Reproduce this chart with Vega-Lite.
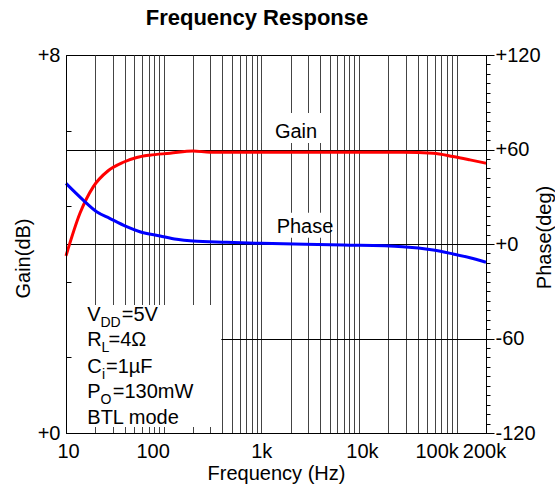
{
  "$schema": "https://vega.github.io/schema/vega-lite/v6.json",
  "width": 420,
  "height": 378,
  "autosize": "none",
  "padding": {"left": 66, "top": 55, "right": 69, "bottom": 52},
  "background": "white",
  "title": {"text": "Frequency Response", "font": "Liberation Sans", "fontSize": 22, "fontWeight": "bold", "color": "black", "frame": "group", "anchor": "middle", "dx": -19, "offset": -2, "baseline": "alphabetic"},
  "config": {
    "view": {"stroke": "black", "strokeWidth": 1},
    "font": "Liberation Sans",
    "axis": {"labelFont": "Liberation Sans", "titleFont": "Liberation Sans", "labelColor": "black", "titleColor": "black", "domainColor": "black", "tickColor": "black", "labelFontSize": 20, "titleFontSize": 20, "titleFontWeight": "normal"}
  },
  "datasets": {
    "gain": [
      {"f": 10, "g": 3.75}, {"f": 13.9, "g": 4.65}, {"f": 19, "g": 5.21}, {"f": 27, "g": 5.55},
      {"f": 38.6, "g": 5.73}, {"f": 53, "g": 5.83}, {"f": 72, "g": 5.88}, {"f": 116, "g": 5.92},
      {"f": 200, "g": 5.97}, {"f": 300, "g": 5.94}, {"f": 1000, "g": 5.94}, {"f": 10000, "g": 5.94},
      {"f": 28400, "g": 5.94}, {"f": 57700, "g": 5.92}, {"f": 92000, "g": 5.85}, {"f": 137000, "g": 5.78},
      {"f": 200000, "g": 5.71}
    ],
    "phase": [
      {"f": 10, "p": 38.5}, {"f": 15, "p": 27.9}, {"f": 20.6, "p": 20.5}, {"f": 28, "p": 16.3},
      {"f": 41.8, "p": 11}, {"f": 57, "p": 7.8}, {"f": 92, "p": 5.1}, {"f": 136, "p": 3.0},
      {"f": 200, "p": 1.9}, {"f": 442, "p": 1.1}, {"f": 1000, "p": 0.4}, {"f": 6900, "p": -0.6},
      {"f": 28000, "p": -1.7}, {"f": 57700, "p": -3.8}, {"f": 92000, "p": -6.3}, {"f": 137000, "p": -8.7},
      {"f": 200000, "p": -11.6}
    ],
    "boxes": [
      {"name": "conditions", "fa": 10.2, "fb": 390, "ga": 0.127, "gb": 2.71},
      {"name": "gainlabel", "fa": 1016, "fb": 5050, "ga": 6.14, "gb": 6.77},
      {"name": "phaselabel", "fa": 1016, "fb": 5050, "ga": 4.13, "gb": 4.66}
    ],
    "notes": [
      {"part": "main", "text": "V", "f": 16.53, "g": 2.377},
      {"part": "sub", "text": "DD", "f": 22.56, "g": 2.377},
      {"part": "main", "text": "=5V", "f": 37.19, "g": 2.377},
      {"part": "main", "text": "R", "f": 16.53, "g": 1.841},
      {"part": "sub", "text": "L", "f": 23.1, "g": 1.841},
      {"part": "main", "text": "=4Ω", "f": 27.24, "g": 1.841},
      {"part": "main", "text": "C", "f": 16.53, "g": 1.276},
      {"part": "sub", "text": "i", "f": 23.37, "g": 1.276},
      {"part": "main", "text": "=1µF", "f": 25.68, "g": 1.276},
      {"part": "main", "text": "P", "f": 16.53, "g": 0.734},
      {"part": "sub", "text": "O", "f": 22.56, "g": 0.734},
      {"part": "main", "text": "=130mW", "f": 30.08, "g": 0.734},
      {"part": "main", "text": "BTL mode", "f": 16.53, "g": 0.19}
    ],
    "labels": [
      {"text": "Gain", "f": 2267, "g": 6.243},
      {"text": "Phase", "f": 2803, "g": 4.239}
    ]
  },
  "layer": [
    {
      "layer": [
        {
          "data": {"name": "boxes"},
          "mark": {"type": "rect", "fill": "white", "stroke": null},
          "encoding": {
            "x": {"field": "fa", "type": "quantitative", "scale": {"type": "log", "domain": [10, 200000], "nice": false},
              "title": "Frequency (Hz)",
              "axis": {
                "values": [10,20,30,40,50,60,70,80,90,100,200,300,400,500,600,700,800,900,1000,2000,3000,4000,5000,6000,7000,8000,9000,10000,20000,30000,40000,50000,60000,70000,80000,90000,100000,200000],
                "labelExpr": "datum.value==10?'10':datum.value==100?'100':datum.value==1000?'1k':datum.value==10000?'10k':datum.value==100000?'100k':datum.value==200000?'200k':''",
                "labelOffset": {"condition": [
                  {"test": "datum.value == 10", "value": 2},
                  {"test": "datum.value == 100", "value": -11},
                  {"test": "datum.value == 10000", "value": 3},
                  {"test": "datum.value == 100000", "value": -20},
                  {"test": "datum.value == 200000", "value": -2}
                ], "value": 0},
                "grid": true, "gridColor": "#444", "gridWidth": 1, "gridOpacity": 1,
                "ticks": false, "labelPadding": 8, "labelFlush": false, "labelOverlap": false,
                "titlePadding": 2, "domain": true
              }},
            "x2": {"field": "fb"},
            "y": {"field": "ga", "type": "quantitative", "scale": {"domain": [0, 8], "nice": false}, "title": "Gain(dB)"},
            "y2": {"field": "gb"}
          }
        },
        {
          "data": {"name": "gain"},
          "mark": {"type": "line", "color": "#ff0000", "strokeWidth": 3, "interpolate": "monotone"},
          "encoding": {
            "x": {"field": "f", "type": "quantitative", "scale": {"type": "log", "domain": [10, 200000], "nice": false}, "title": "Frequency (Hz)"},
            "y": {"field": "g", "type": "quantitative", "scale": {"domain": [0, 8], "nice": false}, "title": "Gain(dB)",
              "axis": {
                "orient": "left",
                "values": [0,0.2,0.4,0.6,0.8,1,1.2,1.4,1.6,1.8,2,2.2,2.4,2.6,2.8,3,3.2,3.4,3.6,3.8,4,4.2,4.4,4.6,4.8,5,5.2,5.4,5.6,5.8,6,6.2,6.4,6.6,6.8,7,7.2,7.4,7.6,7.8,8],
                "labelExpr": "abs(datum.value - round(datum.value/2)*2) < 0.01 ? '+' + round(datum.value) : ''",
                "grid": false, "zindex": 1,
                "tickSize": {"condition": {"test": "abs(datum.value - round(datum.value/2)*2) < 0.01", "value": -10}, "value": -5},
                "labelPadding": 16, "labelFlush": false, "labelOverlap": false,
                "titleX": -37, "titleY": 203, "titleAngle": 270, "titleBaseline": "alphabetic", "titleAlign": "center"
              }}
          }
        },
        {
          "data": {"name": "notes"},
          "transform": [{"filter": "datum.part == 'main'"}],
          "mark": {"type": "text", "align": "left", "baseline": "alphabetic", "fontSize": 20, "font": "Liberation Sans", "color": "black"},
          "encoding": {
            "x": {"field": "f", "type": "quantitative", "scale": {"type": "log", "domain": [10, 200000], "nice": false}, "title": "Frequency (Hz)"},
            "y": {"field": "g", "type": "quantitative", "scale": {"domain": [0, 8], "nice": false}, "title": "Gain(dB)"},
            "text": {"field": "text"}
          }
        },
        {
          "data": {"name": "notes"},
          "transform": [{"filter": "datum.part == 'sub'"}],
          "mark": {"type": "text", "align": "left", "baseline": "alphabetic", "fontSize": 14, "dy": 6, "font": "Liberation Sans", "color": "black"},
          "encoding": {
            "x": {"field": "f", "type": "quantitative", "scale": {"type": "log", "domain": [10, 200000], "nice": false}, "title": "Frequency (Hz)"},
            "y": {"field": "g", "type": "quantitative", "scale": {"domain": [0, 8], "nice": false}, "title": "Gain(dB)"},
            "text": {"field": "text"}
          }
        },
        {
          "data": {"name": "labels"},
          "mark": {"type": "text", "align": "center", "baseline": "alphabetic", "fontSize": 20, "font": "Liberation Sans", "color": "black"},
          "encoding": {
            "x": {"field": "f", "type": "quantitative", "scale": {"type": "log", "domain": [10, 200000], "nice": false}, "title": "Frequency (Hz)"},
            "y": {"field": "g", "type": "quantitative", "scale": {"domain": [0, 8], "nice": false}, "title": "Gain(dB)"},
            "text": {"field": "text"}
          }
        }
      ]
    },
    {
      "data": {"name": "phase"},
      "mark": {"type": "line", "color": "#0000ff", "strokeWidth": 3, "interpolate": "monotone"},
      "encoding": {
        "x": {"field": "f", "type": "quantitative", "scale": {"type": "log", "domain": [10, 200000], "nice": false}, "title": "Frequency (Hz)"},
        "y": {"field": "p", "type": "quantitative", "scale": {"domain": [-120, 120], "nice": false}, "title": "Phase(deg)",
          "axis": {
            "orient": "right",
            "values": [-120,-114,-108,-102,-96,-90,-84,-78,-72,-66,-60,-54,-48,-42,-36,-30,-24,-18,-12,-6,0,6,12,18,24,30,36,42,48,54,60,66,72,78,84,90,96,102,108,114,120],
            "labelExpr": "datum.value % 60 == 0 ? (datum.value >= 0 ? '+' : '') + datum.value : ''",
            "grid": true, "gridColor": "black", "gridWidth": 1,
            "gridOpacity": {"condition": {"test": "datum.value == 60 || datum.value == 0 || datum.value == -60", "value": 1}, "value": 0},
            "tickSize": {"condition": {"test": "datum.value % 60 == 0", "value": 8}, "value": 4},
            "labelPadding": 1, "labelFlush": false, "labelOverlap": false,
            "titleX": 64, "titleY": 182, "titleAngle": 270, "titleBaseline": "alphabetic", "titleAlign": "center"
          }}
      }
    }
  ],
  "resolve": {"scale": {"y": "independent"}, "axis": {"y": "independent"}}
}
